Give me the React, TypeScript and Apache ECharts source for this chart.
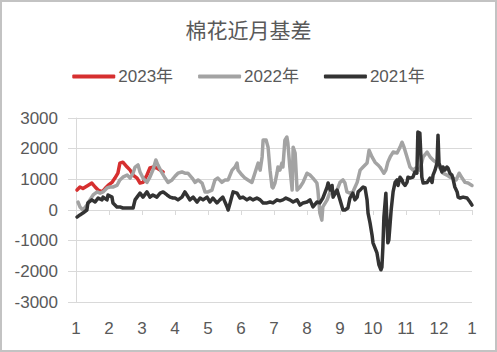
import React, { useEffect, useRef } from "react";
import * as echarts from "echarts";

const TITLE = "棉花近月基差";
const SERIES_NAMES = ["2023年", "2022年", "2021年"];
const SERIES_COLORS = ["#d62f2f", "#a3a3a3", "#333333"];
const X_TICK_LABELS = ["1", "2", "3", "4", "5", "6", "7", "8", "9", "10", "11", "12", "1"];
const Y_MIN = -3000;
const Y_MAX = 3000;
const Y_STEP = 1000;

// [month position (0 = start of Jan, 12 = next Jan), basis]
const basis2023: [number, number][] = [
  [0.03, 650], [0.12, 750], [0.21, 700], [0.36, 800], [0.48, 880], [0.58, 750], [0.67, 650],
  [0.79, 590], [0.88, 700], [0.97, 800], [1.09, 900], [1.18, 1040], [1.27, 1200], [1.33, 1530],
  [1.42, 1560], [1.55, 1400], [1.64, 1300], [1.73, 1140], [1.85, 1040], [1.94, 880], [2.03, 900],
  [2.15, 1140], [2.24, 1370], [2.33, 1400], [2.45, 1370], [2.55, 1300], [2.64, 1240],
];

const basis2022: [number, number][] = [
  [0.06, 260], [0.12, 100], [0.21, 0], [0.33, 160], [0.42, 330], [0.52, 490], [0.64, 590],
  [0.73, 550], [0.82, 590], [0.94, 720], [1.03, 750], [1.12, 750], [1.24, 800], [1.33, 980],
  [1.42, 1070], [1.55, 1140], [1.64, 1040], [1.73, 1200], [1.79, 1400], [1.88, 1470], [1.94, 1240],
  [2.03, 1040], [2.15, 900], [2.24, 1070], [2.33, 1300], [2.42, 1630], [2.48, 1470], [2.61, 1200],
  [2.7, 1040], [2.79, 900], [2.91, 980], [3.0, 1100], [3.09, 1200], [3.21, 1240], [3.3, 1200],
  [3.39, 1200], [3.52, 1040], [3.61, 900], [3.7, 980], [3.82, 880], [3.91, 590], [4.0, 590],
  [4.12, 650], [4.21, 980], [4.3, 1040], [4.42, 900], [4.52, 980], [4.61, 980], [4.73, 1300],
  [4.82, 1400], [4.88, 1530], [4.91, 1300], [5.03, 1140], [5.12, 1040], [5.21, 980], [5.33, 900],
  [5.42, 1200], [5.48, 1400], [5.52, 1530], [5.58, 1300], [5.64, 1730], [5.67, 2280], [5.76, 2280],
  [5.82, 2050], [5.88, 1300], [5.94, 750], [5.97, 720], [6.03, 880], [6.09, 1200], [6.12, 1400],
  [6.18, 1300], [6.24, 1530], [6.27, 1400], [6.33, 2280], [6.39, 2380], [6.42, 2180], [6.48, 1400],
  [6.55, 650], [6.58, 2050], [6.64, 1860], [6.7, 650], [6.79, 750], [6.88, 900], [7.0, 1200],
  [7.09, 1140], [7.18, 1040], [7.3, 880], [7.33, 650], [7.39, -100], [7.45, -330], [7.48, 100],
  [7.61, 330], [7.7, 590], [7.79, 550], [7.91, 650], [8.0, 900], [8.09, 980], [8.15, 880],
  [8.21, 590], [8.3, 550], [8.39, 590], [8.52, 900], [8.61, 1300], [8.7, 1400], [8.82, 1530],
  [8.88, 1950], [8.97, 1730], [9.06, 1560], [9.15, 1470], [9.21, 1400], [9.27, 1300], [9.33, 1200],
  [9.39, 1300], [9.45, 1560], [9.52, 1730], [9.61, 1890], [9.73, 1860], [9.82, 2050], [9.88, 2210],
  [9.94, 2050], [10.03, 1730], [10.12, 1400], [10.21, 1300], [10.3, 1370], [10.42, 1300],
  [10.52, 1730], [10.64, 1890], [10.73, 1730], [10.82, 1630], [10.94, 1530], [11.03, 1370],
  [11.12, 1200], [11.24, 1140], [11.33, 1070], [11.42, 1040], [11.52, 980], [11.61, 1200],
  [11.7, 1040], [11.79, 900], [11.88, 880], [12.0, 800],
];

const basis2021: [number, number][] = [
  [0.03, -230], [0.12, -160], [0.21, -100], [0.33, 0], [0.36, 230], [0.48, 330], [0.58, 260],
  [0.67, 390], [0.79, 330], [0.82, 420], [0.94, 330], [0.97, 490], [1.09, 420], [1.12, 230],
  [1.24, 100], [1.33, 100], [1.42, 65], [1.55, 65], [1.64, 65], [1.73, 65], [1.79, 330],
  [1.85, 420], [1.94, 550], [2.03, 420], [2.15, 590], [2.24, 420], [2.33, 490], [2.45, 420],
  [2.55, 550], [2.64, 590], [2.76, 490], [2.85, 420], [2.94, 390], [3.0, 390], [3.09, 330],
  [3.21, 420], [3.3, 590], [3.36, 490], [3.45, 330], [3.55, 420], [3.67, 260], [3.76, 390],
  [3.85, 330], [3.97, 420], [4.06, 260], [4.15, 390], [4.27, 230], [4.36, 330], [4.45, 420],
  [4.58, 100], [4.61, 0], [4.67, 230], [4.76, 590], [4.88, 550], [4.97, 390], [5.06, 420],
  [5.18, 330], [5.27, 390], [5.36, 330], [5.48, 390], [5.58, 330], [5.67, 230], [5.79, 230],
  [5.88, 260], [5.97, 230], [6.09, 330], [6.18, 300], [6.27, 330], [6.36, 390], [6.48, 330],
  [6.58, 260], [6.7, 330], [6.79, 160], [6.88, 230], [7.0, 260], [7.09, 330], [7.18, 100],
  [7.3, 260], [7.39, 230], [7.48, 390], [7.61, 750], [7.64, 880], [7.7, 650], [7.76, 800],
  [7.79, 420], [7.91, 650], [8.0, 330], [8.09, 0], [8.15, 0], [8.24, 65], [8.3, 390], [8.39, 550],
  [8.45, 330], [8.52, 420], [8.55, 590], [8.61, 650], [8.67, 720], [8.7, 750], [8.76, 720],
  [8.82, 330], [8.85, -100], [8.91, -420], [8.97, -810], [9.0, -1070], [9.12, -1400],
  [9.18, -1790], [9.24, -1950], [9.27, -1860], [9.3, -1200], [9.33, -230], [9.39, 550],
  [9.42, -330], [9.45, -1070], [9.48, -980], [9.55, 0], [9.61, 600], [9.67, 900], [9.73, 980],
  [9.76, 800], [9.82, 1070], [9.88, 980], [9.91, 880], [9.97, 800], [10.03, 900], [10.06, 1070],
  [10.12, 1040], [10.21, 1070], [10.27, 1240], [10.33, 1200], [10.36, 2540], [10.42, 2510],
  [10.48, 1070], [10.52, 880], [10.64, 900], [10.73, 1040], [10.79, 900], [10.82, 1140],
  [10.88, 1300], [10.94, 1530], [10.97, 2440], [11.0, 1530], [11.09, 1240], [11.12, 1400],
  [11.18, 1300], [11.24, 1400], [11.27, 1370], [11.33, 1200], [11.39, 1140], [11.42, 1040],
  [11.48, 750], [11.55, 590], [11.58, 420], [11.64, 390], [11.73, 420], [11.85, 390],
  [11.94, 260], [12.0, 160],
];

const SERIES_DATA = [basis2023, basis2022, basis2021];

const TEXT_COLOR = "#595959";
const GRID_COLOR = "#d9d9d9";
const FONT = "'Liberation Sans', 'Noto Sans CJK SC', sans-serif";

export default function App() {
  const ref = useRef<HTMLDivElement>(null);

  useEffect(() => {
    if (!ref.current) return;
    const chart = echarts.init(ref.current, undefined, { renderer: "svg" });
    const baseX = {
      type: "value" as const,
      min: 0,
      max: 12,
      interval: 1,
      splitLine: { show: false },
    };
    chart.setOption({
      animation: false,
      backgroundColor: "#ffffff",
      textStyle: { fontFamily: FONT },
      title: {
        text: TITLE,
        left: "center",
        top: 18,
        padding: 0,
        textStyle: {
          fontFamily: "'Noto Sans CJK SC', sans-serif",
          fontSize: 21,
          fontWeight: "normal",
          color: TEXT_COLOR,
        },
      },
      legend: {
        data: SERIES_NAMES,
        left: "center",
        top: 68,
        padding: 0,
        itemGap: 25,
        itemWidth: 43,
        itemHeight: 4,
        icon: "roundRect",
        textStyle: { fontSize: 17, color: TEXT_COLOR, fontFamily: FONT, padding: [0, 0, 0, -2] },
      },
      grid: { left: 76, right: 25, top: 118, bottom: 50, containLabel: false },
      xAxis: [
        {
          ...baseX,
          position: "bottom",
          axisLine: { show: true, onZero: true, lineStyle: { color: GRID_COLOR, width: 1 } },
          axisTick: { show: true, length: 5, lineStyle: { color: GRID_COLOR } },
          axisLabel: { show: false },
        },
        {
          ...baseX,
          position: "bottom",
          axisLine: { show: false, onZero: false },
          axisTick: { show: false },
          axisLabel: {
            show: true,
            margin: 18,
            fontSize: 17,
            color: TEXT_COLOR,
            fontFamily: FONT,
            showMinLabel: true,
            showMaxLabel: true,
            formatter: (v: number) => X_TICK_LABELS[Math.round(v)] ?? "",
          },
        },
      ],
      yAxis: {
        type: "value",
        min: Y_MIN,
        max: Y_MAX,
        interval: Y_STEP,
        axisLine: { show: true, lineStyle: { color: GRID_COLOR } },
        axisTick: { show: true, length: 8, lineStyle: { color: GRID_COLOR } },
        splitLine: { show: true, lineStyle: { color: GRID_COLOR, width: 1 } },
        axisLabel: {
          fontSize: 17,
          color: TEXT_COLOR,
          margin: 18,
          fontFamily: FONT,
          formatter: (v: number) => String(v),
        },
      },
      graphic: [
        {
          type: "rect",
          shape: { x: 1, y: 1, width: 495, height: 350 },
          style: { fill: "none", stroke: "#c3c3c3", lineWidth: 2 },
          silent: true,
        },
      ],
      series: SERIES_NAMES.map((name, i) => ({
        name,
        type: "line",
        xAxisIndex: 0,
        data: SERIES_DATA[i],
        showSymbol: false,
        symbol: "none",
        smooth: false,
        lineStyle: { color: SERIES_COLORS[i], width: 3.5, join: "round", cap: "round" },
        itemStyle: { color: SERIES_COLORS[i] },
      })),
    });
    return () => chart.dispose();
  }, []);

  return (
    <div
      ref={ref}
      style={{ position: "absolute", left: 0, top: 0, width: 497, height: 352 }}
    />
  );
}
